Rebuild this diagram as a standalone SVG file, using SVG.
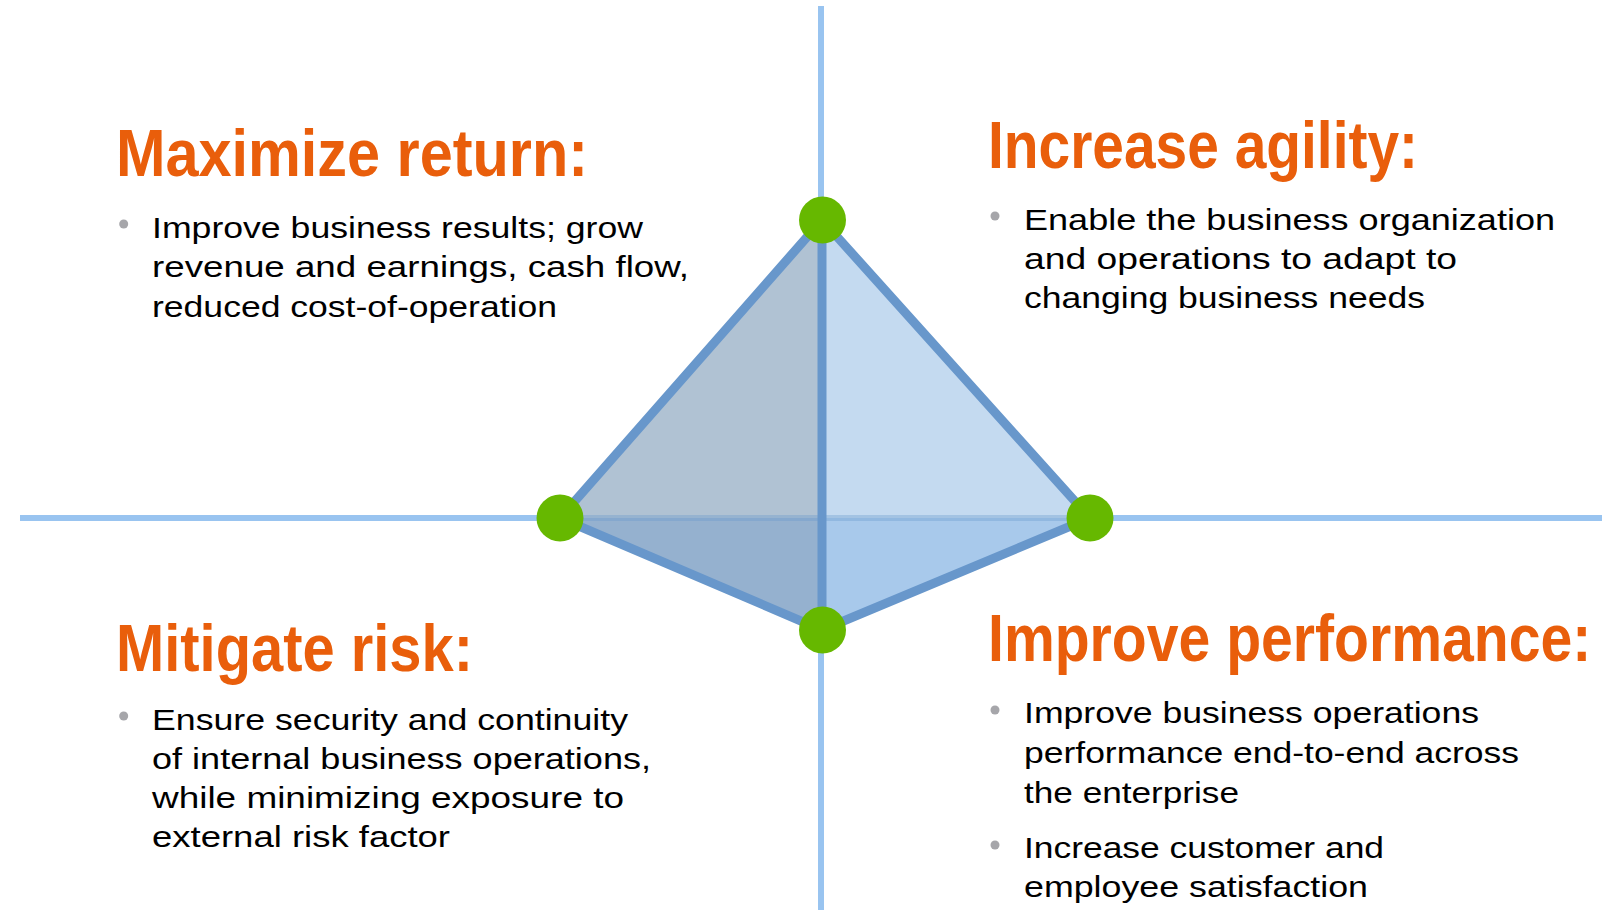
<svg xmlns="http://www.w3.org/2000/svg" width="1602" height="910" viewBox="0 0 1602 910">
  <style>
    .axis { stroke: #99C4F0; stroke-width: 6; fill: none; }
    .edge { stroke: #6897CB; stroke-width: 9; fill: none; stroke-linecap: round; stroke-linejoin: round; }
    .node { fill: #66B800; }
    .title { font-family: "Liberation Sans", Arial, sans-serif; font-weight: bold; font-size: 66px; fill: #E95E0B; }
    .body { font-family: "Liberation Sans", Arial, sans-serif; font-size: 29px; fill: #000000; }
    .dot { fill: #A6A6AA; }
  </style>
  <rect width="1602" height="910" fill="#FFFFFF"/>

  <g id="axes">
    <line class="axis" x1="821" y1="6" x2="821" y2="910"/>
    <line class="axis" x1="20" y1="518" x2="1602" y2="518"/>
  </g>

  <g id="tetrahedron">
    <polygon points="822,220 560,518 822,518" fill="#B0C2D3"/>
    <polygon points="822,220 822,518 1090,518" fill="#C4DAF0"/>
    <polygon points="560,518 822,518 822,630" fill="#95B1CF"/>
    <polygon points="822,518 1090,518 822,630" fill="#A8C9EB"/>
    <line x1="560" y1="518" x2="1090" y2="518" stroke="#6897CB" stroke-width="6" stroke-opacity="0.35"/>
  </g>

  <g id="connectors">
    <line class="edge" x1="822" y1="220" x2="560" y2="518"/>
    <line class="edge" x1="822" y1="220" x2="1090" y2="518"/>
    <line class="edge" x1="560" y1="518" x2="822" y2="630"/>
    <line class="edge" x1="1090" y1="518" x2="822" y2="630"/>
    <line class="edge" x1="822" y1="220" x2="822" y2="630"/>
  </g>

  <g id="node-top"><circle class="node" cx="822.5" cy="220" r="23.5"/></g>
  <g id="node-left"><circle class="node" cx="560" cy="518" r="23.5"/></g>
  <g id="node-right"><circle class="node" cx="1090" cy="518" r="23.5"/></g>
  <g id="node-bottom"><circle class="node" cx="822.5" cy="630" r="23.5"/></g>

  <g id="maximize-return">
    <text class="title" x="116" y="176" textLength="472" lengthAdjust="spacingAndGlyphs">Maximize return:</text>
    <circle class="dot" cx="123.7" cy="224" r="4.5"/>
    <text class="body" x="152" y="238" textLength="491" lengthAdjust="spacingAndGlyphs">Improve business results; grow</text>
    <text class="body" x="152" y="277" textLength="537" lengthAdjust="spacingAndGlyphs">revenue and earnings, cash flow,</text>
    <text class="body" x="152" y="317" textLength="405" lengthAdjust="spacingAndGlyphs">reduced cost-of-operation</text>
  </g>

  <g id="increase-agility">
    <text class="title" x="988" y="168" textLength="430" lengthAdjust="spacingAndGlyphs">Increase agility:</text>
    <circle class="dot" cx="995" cy="216" r="4.5"/>
    <text class="body" x="1024" y="230" textLength="531" lengthAdjust="spacingAndGlyphs">Enable the business organization</text>
    <text class="body" x="1024" y="269" textLength="433" lengthAdjust="spacingAndGlyphs">and operations to adapt to</text>
    <text class="body" x="1024" y="308" textLength="401" lengthAdjust="spacingAndGlyphs">changing business needs</text>
  </g>

  <g id="mitigate-risk">
    <text class="title" x="116" y="671" textLength="357" lengthAdjust="spacingAndGlyphs">Mitigate risk:</text>
    <circle class="dot" cx="123.7" cy="716" r="4.5"/>
    <text class="body" x="152" y="730" textLength="476" lengthAdjust="spacingAndGlyphs">Ensure security and continuity</text>
    <text class="body" x="152" y="769" textLength="499" lengthAdjust="spacingAndGlyphs">of internal business operations,</text>
    <text class="body" x="152" y="808" textLength="472" lengthAdjust="spacingAndGlyphs">while minimizing exposure to</text>
    <text class="body" x="152" y="847" textLength="298" lengthAdjust="spacingAndGlyphs">external risk factor</text>
  </g>

  <g id="improve-performance">
    <text class="title" transform="translate(988,661) scale(0.866,1)" x="0" y="0">Improve performance:</text>
    <circle class="dot" cx="995" cy="710" r="4.5"/>
    <text class="body" x="1024" y="723" textLength="455" lengthAdjust="spacingAndGlyphs">Improve business operations</text>
    <text class="body" x="1024" y="763" textLength="495" lengthAdjust="spacingAndGlyphs">performance end-to-end across</text>
    <text class="body" x="1024" y="803" textLength="215" lengthAdjust="spacingAndGlyphs">the enterprise</text>
    <circle class="dot" cx="995" cy="845" r="4.5"/>
    <text class="body" x="1024" y="858" textLength="360" lengthAdjust="spacingAndGlyphs">Increase customer and</text>
    <text class="body" x="1024" y="897" textLength="344" lengthAdjust="spacingAndGlyphs">employee satisfaction</text>
  </g>
</svg>
